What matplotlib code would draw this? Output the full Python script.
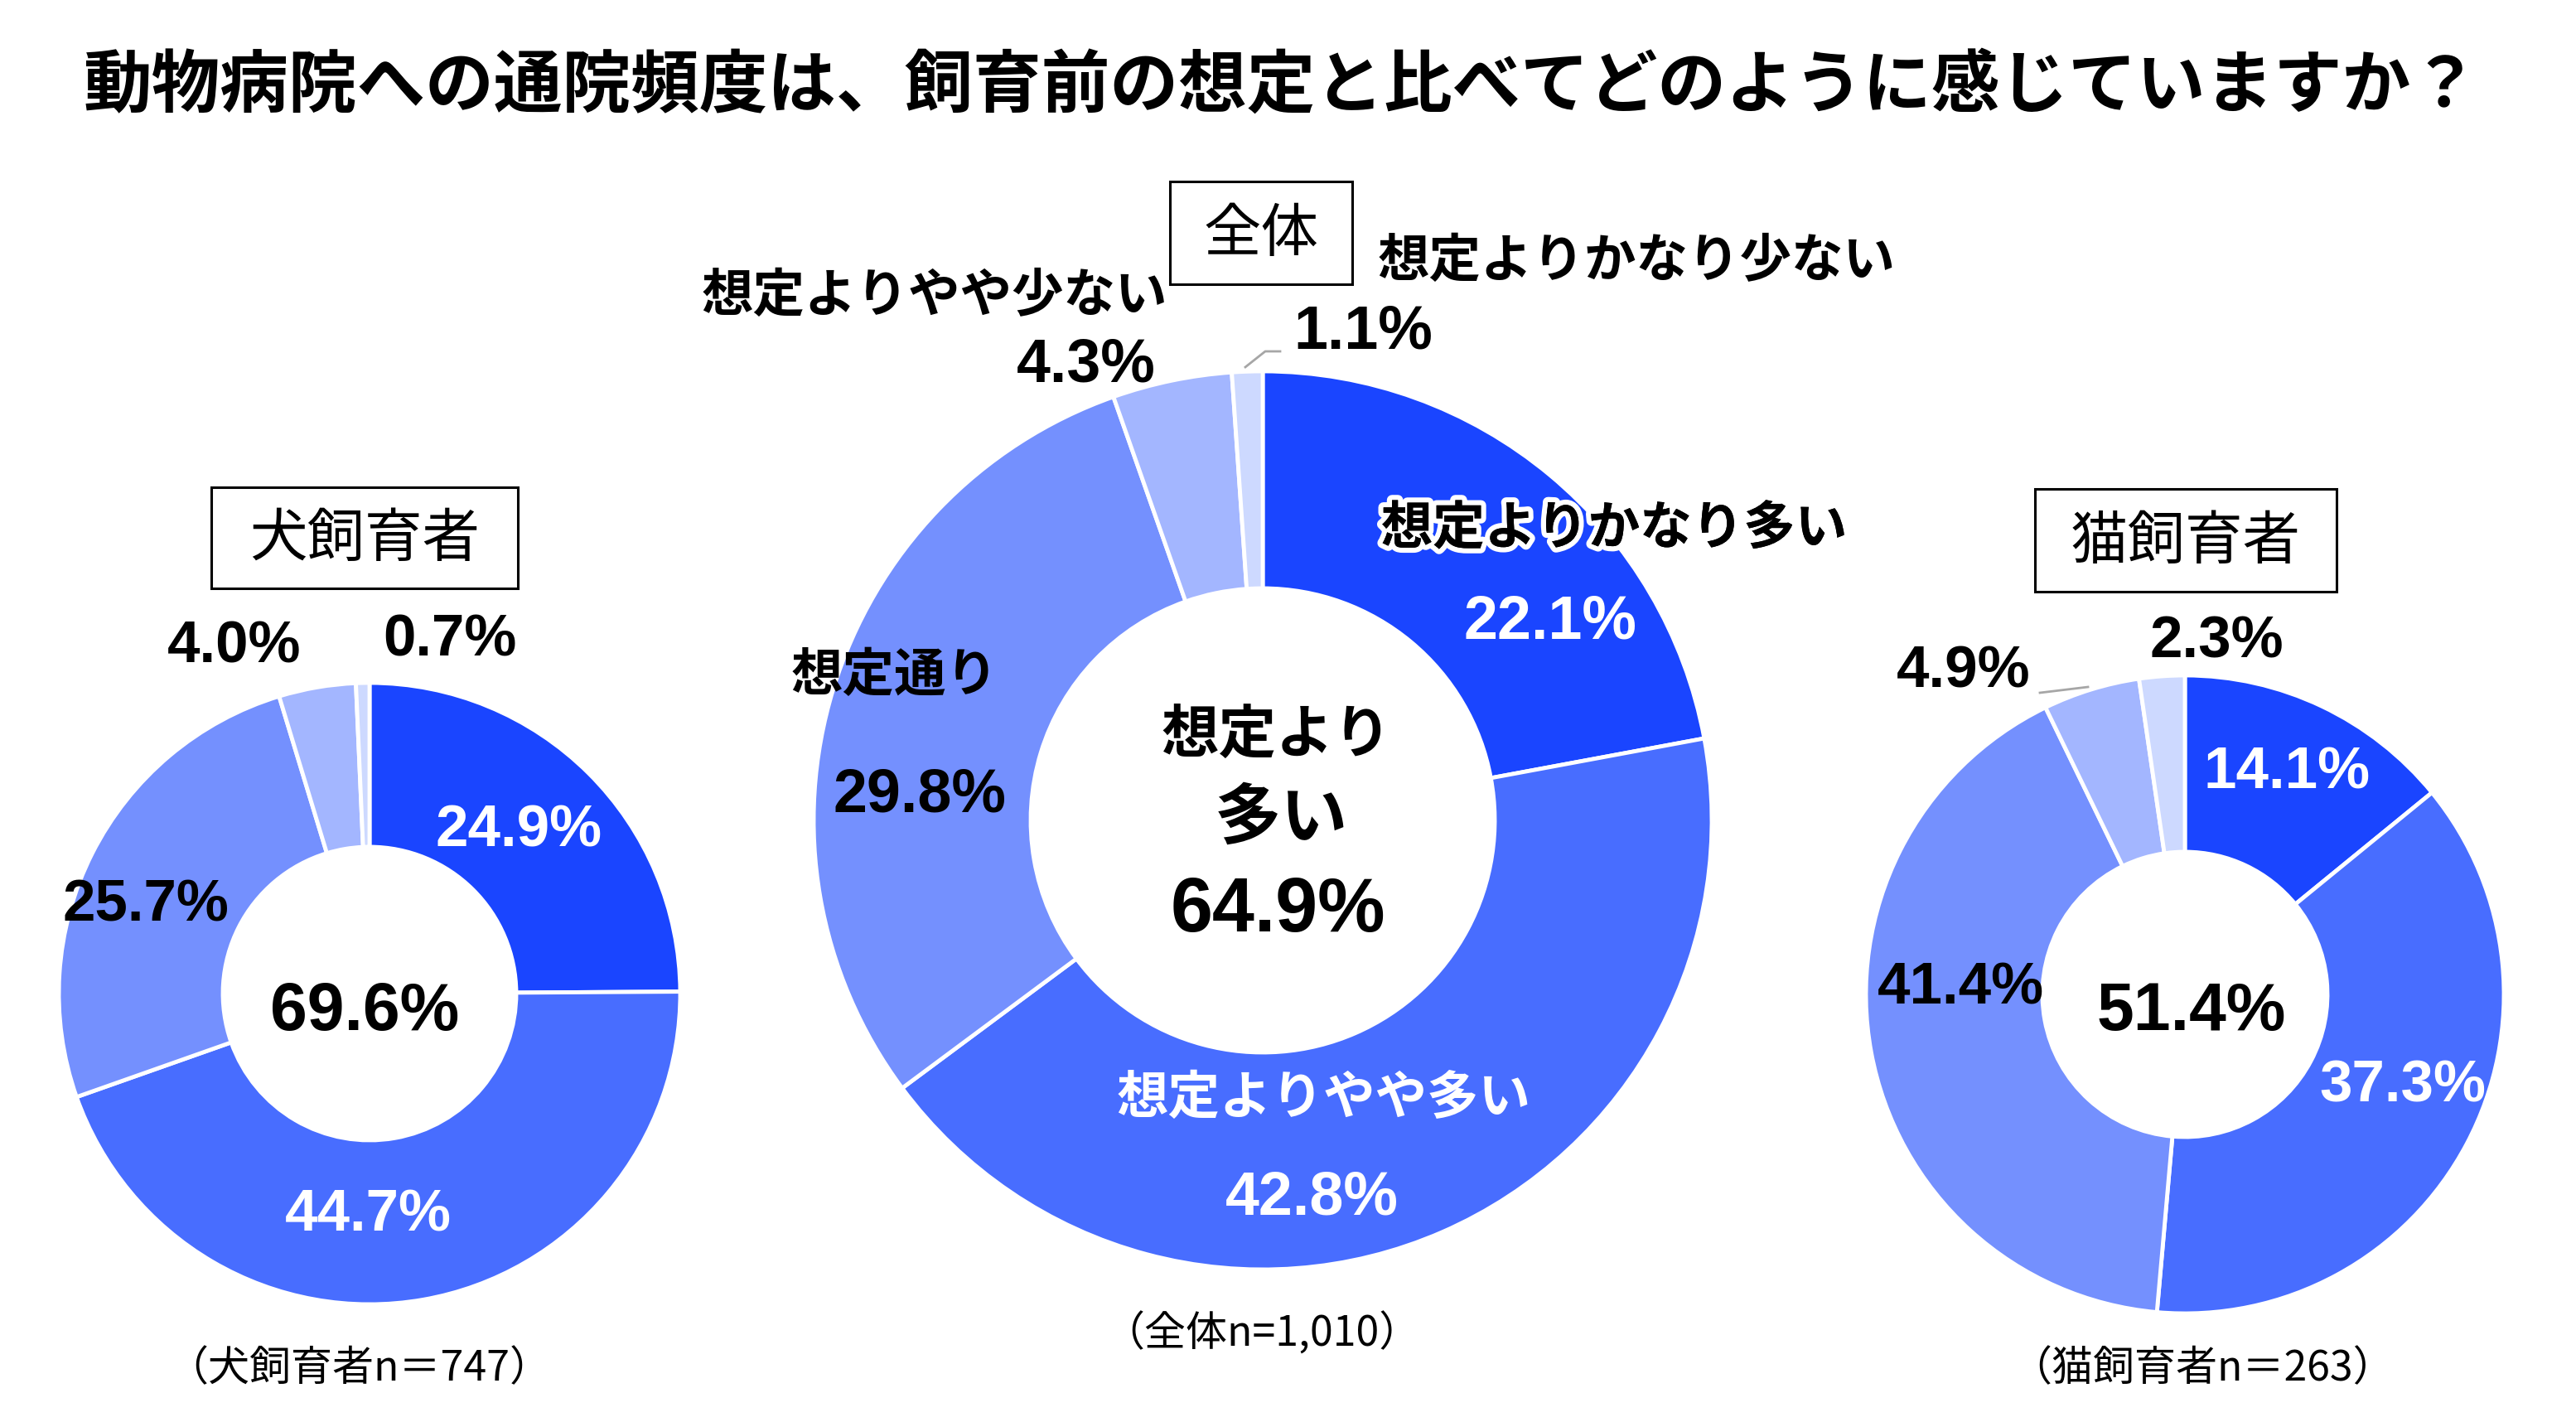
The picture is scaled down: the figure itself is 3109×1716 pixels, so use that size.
import matplotlib
matplotlib.use("Agg")
import matplotlib.pyplot as plt
from matplotlib.patches import Rectangle
import matplotlib.patheffects as pe

# ---------------- data ----------------
categories = ["想定よりかなり多い", "想定よりやや多い", "想定通り", "想定よりやや少ない", "想定よりかなり少ない"]
overall = [22.1, 42.8, 29.8, 4.3, 1.1]
dog = [24.9, 44.7, 25.7, 4.0, 0.7]
cat = [14.1, 37.3, 41.4, 4.9, 2.3]
overall_more = 64.9
dog_more = 69.6
cat_more = 51.4
title = "動物病院への通院頻度は、飼育前の想定と比べてどのように感じていますか？"
group_names = ["犬飼育者", "全体", "猫飼育者"]
footnotes = ["（犬飼育者n＝747）", "（全体n=1,010）", "（猫飼育者n＝263）"]

colors = ["#1a45ff", "#486dff", "#7490fe", "#a3b6ff", "#cdd9ff"]

W, H = 3109, 1716
fig = plt.figure(figsize=(W / 100, H / 100), dpi=100)
ax = fig.add_axes([0, 0, 1, 1])


def Y(y):
    return H - y


JP = ["Noto Sans CJK JP", "DejaVu Sans"]
WIDE = ["Liberation Sans", "DejaVu Sans"]

# ---------------- pies ----------------
pies = [
    (dog, (446, 1199), 375, 177),
    (overall, (1524, 990), 542, 280),
    (cat, (2637, 1200), 385, 172),
]
for vals, (cx, cy), r_out, r_in in pies:
    ax.pie(vals, colors=colors, startangle=90, counterclock=False,
           center=(cx, Y(cy)), radius=r_out,
           wedgeprops=dict(width=r_out - r_in, edgecolor="white", linewidth=3.5))

# ---------------- title ----------------
ax.text(1546, Y(104), title, ha="center", va="center", fontsize=59.5,
        fontweight="bold", family=JP, color="black")

# ---------------- group boxes ----------------
boxes = [(255, 588, 625, 710), (1412, 219, 1632, 343), (2456, 590, 2820, 714)]
for name, (x0, y0, x1, y1) in zip(group_names, boxes):
    ax.add_patch(Rectangle((x0, Y(y1)), x1 - x0, y1 - y0, fill=False,
                           edgecolor="black", linewidth=2.2))
    ax.text((x0 + x1) / 2, Y((y0 + y1) / 2 + 2), name, ha="center", va="center",
            fontsize=50, family=JP, color="black")

# ---------------- footnotes ----------------
foot_pos = [(433, 1652), (1523, 1610), (2658, 1652)]
for t, (x, y) in zip(footnotes, foot_pos):
    ax.text(x, Y(y), t, ha="center", va="center", fontsize=36, family=JP, color="black")


def pct(v):
    return f"{v:.1f}%"


# ---------------- dog labels ----------------
dog_pos = [(626, 1003), (444, 1468), (176, 1094), (283, 781), (543, 774)]
dog_col = ["white", "white", "black", "black", "black"]
for v, (x, y), c in zip(dog, dog_pos, dog_col):
    ax.text(x, Y(y), pct(v), ha="center", va="center", fontsize=51,
            fontweight="bold", family=WIDE, color=c)
ax.text(440, Y(1222), pct(dog_more), ha="center", va="center", fontsize=58,
        fontweight="bold", family=WIDE, color="black")

# ---------------- cat labels ----------------
cat_pos = [(2760, 934), (2900, 1312), (2366, 1194), (2370, 811), (2675, 776)]
cat_col = ["white", "white", "black", "black", "black"]
for v, (x, y), c in zip(cat, cat_pos, cat_col):
    ax.text(x, Y(y), pct(v), ha="center", va="center", fontsize=51,
            fontweight="bold", family=WIDE, color=c)
ax.text(2645, Y(1222), pct(cat_more), ha="center", va="center", fontsize=58,
        fontweight="bold", family=WIDE, color="black")
ax.plot([2462, 2520], [Y(836), Y(829)], color="#a6a6a6", lw=2)

# ---------------- overall labels ----------------
ov_num_pos = [(1871, 751), (1583, 1446), (1110, 960), (1311, 441), (1645, 401)]
ov_num_col = ["white", "white", "black", "black", "black"]
for v, (x, y), c in zip(overall, ov_num_pos, ov_num_col):
    ax.text(x, Y(y), pct(v), ha="center", va="center", fontsize=53,
            fontweight="bold", family=WIDE, color=c)

ov_cat_pos = [(1948, 638), (1598, 1326), (1080, 816), (1128, 358), (1975, 315)]
ov_cat_col = ["black", "white", "black", "black", "black"]
for i, (name, (x, y), c) in enumerate(zip(categories, ov_cat_pos, ov_cat_col)):
    t = ax.text(x, Y(y), name, ha="center", va="center", fontsize=45,
                fontweight="bold", family=JP, color=c)
    if i == 0:
        t.set_path_effects([pe.withStroke(linewidth=9, foreground="white"), pe.Normal()])

ax.plot([1503, 1527, 1545], [Y(443), Y(424), Y(424)], color="#a6a6a6", lw=2)

ax.text(1540, Y(888), "想定より", ha="center", va="center", fontsize=50,
        fontweight="bold", family=JP, color="black")
ax.text(1546, Y(988), "多い", ha="center", va="center", fontsize=58,
        fontweight="bold", family=JP, color="black")
ax.text(1542, Y(1100), f"{overall_more:.1f}%", ha="center", va="center", fontsize=66,
        fontweight="bold", family=WIDE, color="black")

ax.set_xlim(0, W)
ax.set_ylim(0, H)
ax.set_aspect("equal")
ax.axis("off")
fig.savefig("out.png", dpi=100, facecolor="white")
